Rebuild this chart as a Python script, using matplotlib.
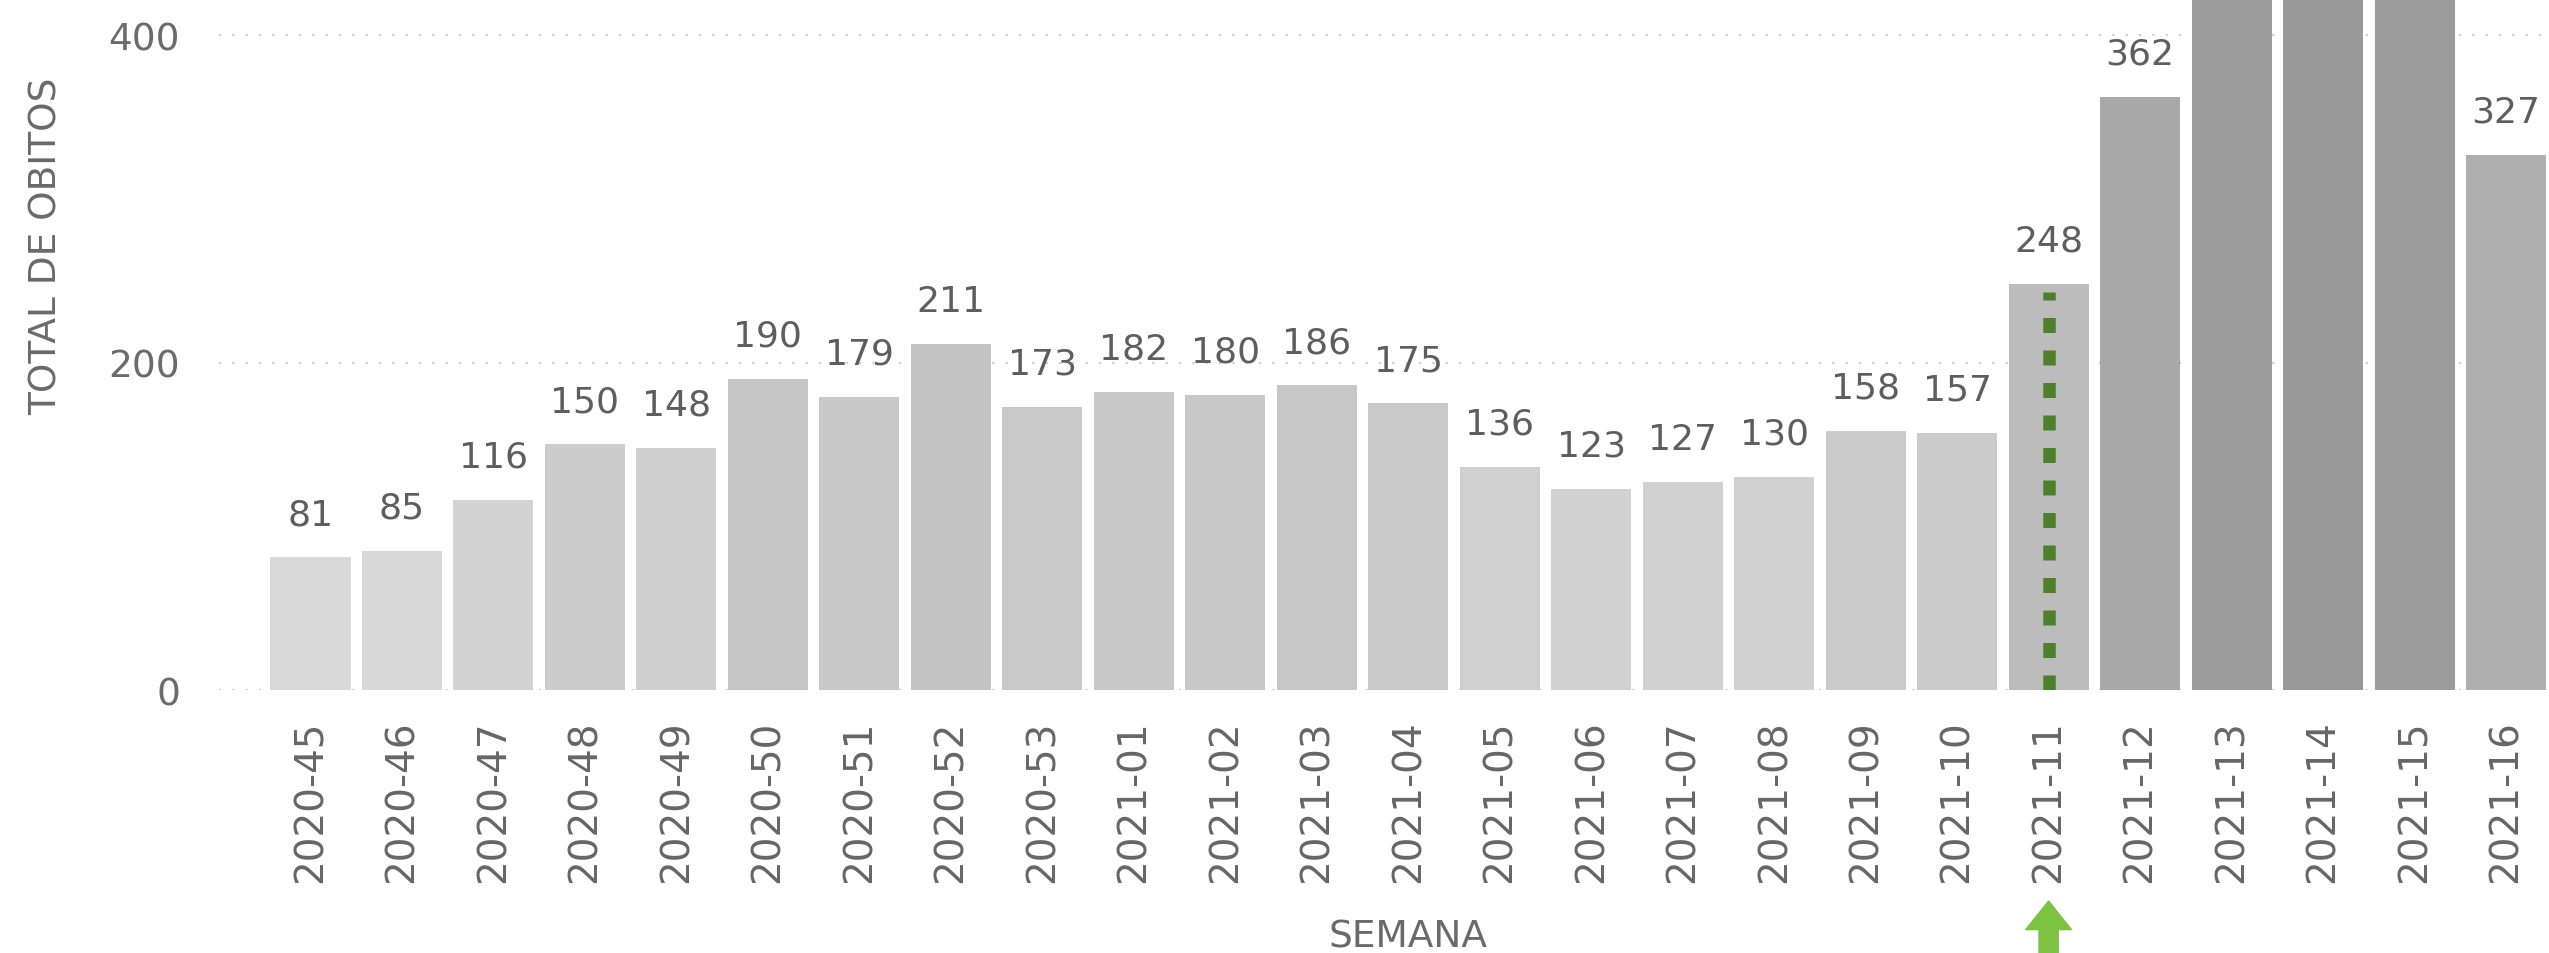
import matplotlib
matplotlib.use("Agg")
import matplotlib.pyplot as plt
from matplotlib.patches import FancyArrow
from matplotlib.transforms import blended_transform_factory
import numpy as np

# ---- data ----
semanas = ["2020-45", "2020-46", "2020-47", "2020-48", "2020-49", "2020-50", "2020-51",
           "2020-52", "2020-53", "2021-01", "2021-02", "2021-03", "2021-04", "2021-05",
           "2021-06", "2021-07", "2021-08", "2021-09", "2021-10", "2021-11", "2021-12",
           "2021-13", "2021-14", "2021-15", "2021-16"]
obitos = [81, 85, 116, 150, 148, 190, 179, 211, 173, 182, 180, 186, 175, 136,
          123, 127, 130, 158, 157, 248, 362, 437, 458, 441, 327]
marcador_semana = "2021-11"
y_ticks = [0, 200, 400]

plt.rcParams['font.family'] = ['DejaVu Sans']

W, H = 2549, 954
fig = plt.figure(figsize=(W / 100, H / 100), dpi=100)
ax_left = 219 / W
ax_bottom = 1 - 691 / H
ax = fig.add_axes([ax_left, ax_bottom, 1 - ax_left, 1 - ax_bottom])

x = np.arange(len(semanas))


def shade(v):
    g = 217 - (v - 81) * 0.171
    g = max(150, min(218, g)) / 255.0
    return (g, g, g)


colors = [shade(v) for v in obitos]
ax.bar(x, obitos, width=0.875, color=colors, zorder=2)

ymax = 422
ax.set_xlim(-1.0, 24.47)
ax.set_ylim(0, ymax)

# grid
ax.set_yticks(y_ticks)
ax.yaxis.grid(True, linestyle=(0, (1, 5)), color='#cfcfcf', linewidth=1.6, zorder=0)
ax.xaxis.grid(False)
for s in ax.spines.values():
    s.set_visible(False)

ax.tick_params(axis='y', length=0, pad=28, labelsize=27, labelcolor='#6b6b6b')
ax.set_xticks(x)
ax.set_xticklabels(semanas, rotation=90, fontsize=28, color='#666666')
ax.tick_params(axis='x', length=0, pad=21)

# value labels (those of bars running past the top edge are cut off, as in the original)
for xi, v in zip(x, obitos):
    if v > 400:
        continue
    ax.annotate(str(v), (xi, v), xytext=(0, 24), textcoords='offset points',
                ha='center', va='baseline', fontsize=26, color='#5e5e5e',
                annotation_clip=False)

# marker line
mi = semanas.index(marcador_semana)
ax.plot([mi, mi], [0, obitos[mi] - 5], color='#4e7f2c', linewidth=9,
        linestyle=(0, (1.2, 1.4)), dash_capstyle='butt', zorder=3)

# arrow below the marked week
tr = blended_transform_factory(ax.transData, fig.transFigure)
tip = 1 - 902 / H
arr = FancyArrow(mi, -0.02, 0, tip + 0.02, width=0.21, head_width=0.5,
                 head_length=0.03, length_includes_head=True,
                 transform=tr, color='#7ec242', clip_on=False, zorder=5)
ax.add_patch(arr)

# axis titles
fig.text(1408 / W, 1 - 938 / H, "SEMANA", ha='center', va='center',
         fontsize=27, color='#6a6a6a')
fig.text(47 / W, 1 - 246 / H, "TOTAL DE OBITOS", ha='center', va='center',
         rotation=90, fontsize=27, color='#6a6a6a')

fig.savefig("out.png", dpi=100, facecolor='white')
